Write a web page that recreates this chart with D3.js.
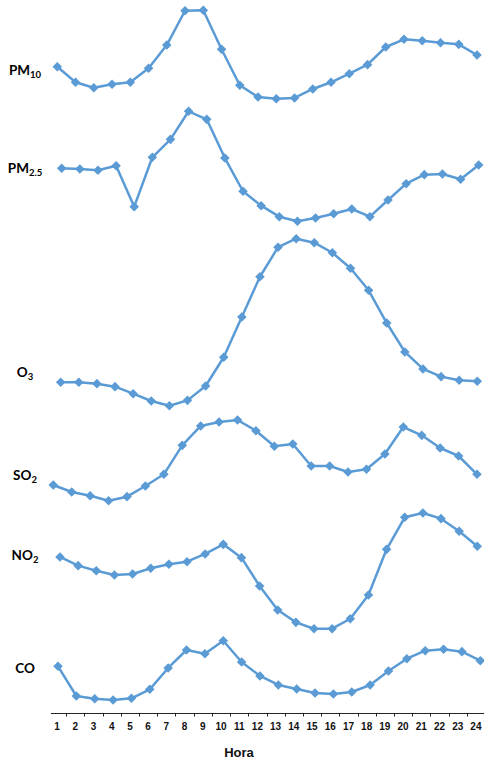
<!DOCTYPE html>
<html>
<head>
<meta charset="utf-8">
<script src="https://cdn.jsdelivr.net/npm/d3@7"></script>
<style>
  html, body { margin: 0; padding: 0; background: #fff; }
  svg { display: block; }
</style>
</head>
<body>
<svg id="chart" width="484" height="761"></svg>
<script>
// ---- Data (relative level per pollutant, 0 = daily minimum, 100 = daily maximum) ----
const hours = d3.range(1, 25).map(String);
const pollutants = ["PM10", "PM2.5", "O3", "SO2", "NO2", "CO"];
const pm10 = [36.2, 18.6, 12.4, 16.3, 18.6, 34.4, 60.7, 99.5, 100, 55.9, 15.2, 1.9, 0, 0.8, 11, 18.6, 28.3, 38.5, 58.5, 67.2, 65.6, 63.3, 61.5, 49.4];
const pm25 = [48.2, 47.5, 46.4, 50.5, 13.3, 58.2, 74.5, 100, 92.7, 57.5, 27.3, 14.2, 4.2, 0, 3, 6.9, 11.2, 4.2, 19.4, 34.2, 42.4, 43, 38.2, 51.2];
const o3   = [14, 14, 13.2, 11.4, 7.2, 2.8, 0, 3.2, 11.8, 29, 53.1, 77.2, 94.9, 100, 97.6, 91.6, 82.3, 69.1, 49.5, 32.2, 22, 17.4, 15.2, 14.6];
const so2  = [19.5, 10.8, 6.2, 0, 5, 18.2, 32.7, 68.6, 92.6, 97.5, 100, 86.7, 67.4, 70.3, 43, 43, 35.6, 38.9, 57.9, 91.3, 81, 65.3, 55.4, 32.7];
const no2  = [62, 54.5, 50.1, 46.4, 47.3, 52.2, 55.7, 57.9, 64.6, 72.9, 61.4, 36.9, 16.1, 5.5, 0, 0, 8.6, 29.1, 68.6, 96.3, 100, 95.1, 84.2, 71.2];
const co   = [56.8, 6.7, 2.2, 0, 2.9, 18, 54, 84.3, 78.1, 100, 64.1, 40.5, 25.3, 18.5, 11.8, 10.1, 13.5, 25.3, 48.9, 69.6, 83.1, 85.5, 81.5, 66.3];
const seriesValues = [pm10, pm25, o3, so2, no2, co];
const xTitle = "Hora";

// ---- Layout (pixel panels for each stacked curve) ----
const layout = [
  { label: ["PM", "10"],  bottom: 98.7,  top: 10.3,  x0: 57.3, x1: 477.0, ly: 70.5 },
  { label: ["PM", "2.5"], bottom: 221.3, top: 111.3, x0: 61.7, x1: 478.7, ly: 168.5 },
  { label: ["O", "3"],    bottom: 405.7, top: 238.7, x0: 60.7, x1: 477.3, ly: 372 },
  { label: ["SO", "2"],   bottom: 500.7, top: 420.0, x0: 53.3, x1: 477.0, ly: 475 },
  { label: ["NO", "2"],   bottom: 628.7, top: 513.0, x0: 60.0, x1: 477.3, ly: 555 },
  { label: ["CO", ""],    bottom: 700.0, top: 640.7, x0: 58.0, x1: 480.3, ly: 668.5 }
];
const color = "#5B9BD5";
const axisY = 713.5;

const svg = d3.select("#chart");

// X axis (band scale for hour categories)
const xAxisScale = d3.scaleBand().domain(hours).range([48, 485]).paddingInner(0).paddingOuter(0);

const axisG = svg.append("g");
axisG.append("line")
  .attr("x1", 51).attr("x2", 484)
  .attr("y1", axisY).attr("y2", axisY)
  .attr("stroke", "#222").attr("stroke-width", 1);
axisG.selectAll("line.tick")
  .data(hours.slice(0, -1))
  .join("line")
  .attr("class", "tick")
  .attr("x1", d => Math.round(xAxisScale(d) + xAxisScale.bandwidth()) + 0.5)
  .attr("x2", d => Math.round(xAxisScale(d) + xAxisScale.bandwidth()) + 0.5)
  .attr("y1", axisY).attr("y2", axisY + 3)
  .attr("stroke", "#222").attr("stroke-width", 1);
axisG.selectAll("text.tl")
  .data(hours)
  .join("text")
  .attr("class", "tl")
  .attr("x", d => xAxisScale(d) + xAxisScale.bandwidth() / 2)
  .attr("y", 730)
  .attr("text-anchor", "middle")
  .attr("font-family", "Liberation Sans, Arial, sans-serif")
  .attr("font-weight", "bold")
  .attr("font-size", 10)
  .attr("fill", "#111")
  .text(d => d);

svg.append("text")
  .attr("x", 239).attr("y", 757)
  .attr("text-anchor", "middle")
  .attr("font-family", "Liberation Sans, Arial, sans-serif")
  .attr("font-weight", "bold")
  .attr("font-size", 13)
  .attr("fill", "#111")
  .text(xTitle);

// Series
const diamond = d3.symbol().type(d3.symbolSquare).size(46);

seriesValues.forEach((vals, i) => {
  const L = layout[i];
  const x = d3.scalePoint().domain(hours).range([L.x0, L.x1]);
  const y = d3.scaleLinear().domain([0, 100]).range([L.bottom, L.top]);
  const data = hours.map((h, j) => ({ h, v: vals[j] }));
  const g = svg.append("g").attr("class", "series").attr("data-name", pollutants[i]);

  g.append("path")
    .datum(data)
    .attr("fill", "none")
    .attr("stroke", color)
    .attr("stroke-width", 2.5)
    .attr("stroke-linejoin", "round")
    .attr("d", d3.line().x(d => x(d.h)).y(d => y(d.v)));

  g.selectAll("path.m")
    .data(data)
    .join("path")
    .attr("class", "m")
    .attr("d", diamond)
    .attr("transform", d => `translate(${x(d.h)},${y(d.v)}) rotate(45)`)
    .attr("fill", color);

  const t = svg.append("text")
    .attr("x", 25).attr("y", L.ly + 4.5)
    .attr("text-anchor", "middle")
    .attr("font-family", "Lato, 'Open Sans', sans-serif")
    .attr("font-weight", "bold")
    .attr("font-size", 13.5)
    .attr("fill", "#000");
  t.append("tspan").text(L.label[0]);
  if (L.label[1]) {
    t.append("tspan").attr("font-size", 9.5).attr("dy", 3).text(L.label[1]);
  }
});
</script>
</body>
</html>
